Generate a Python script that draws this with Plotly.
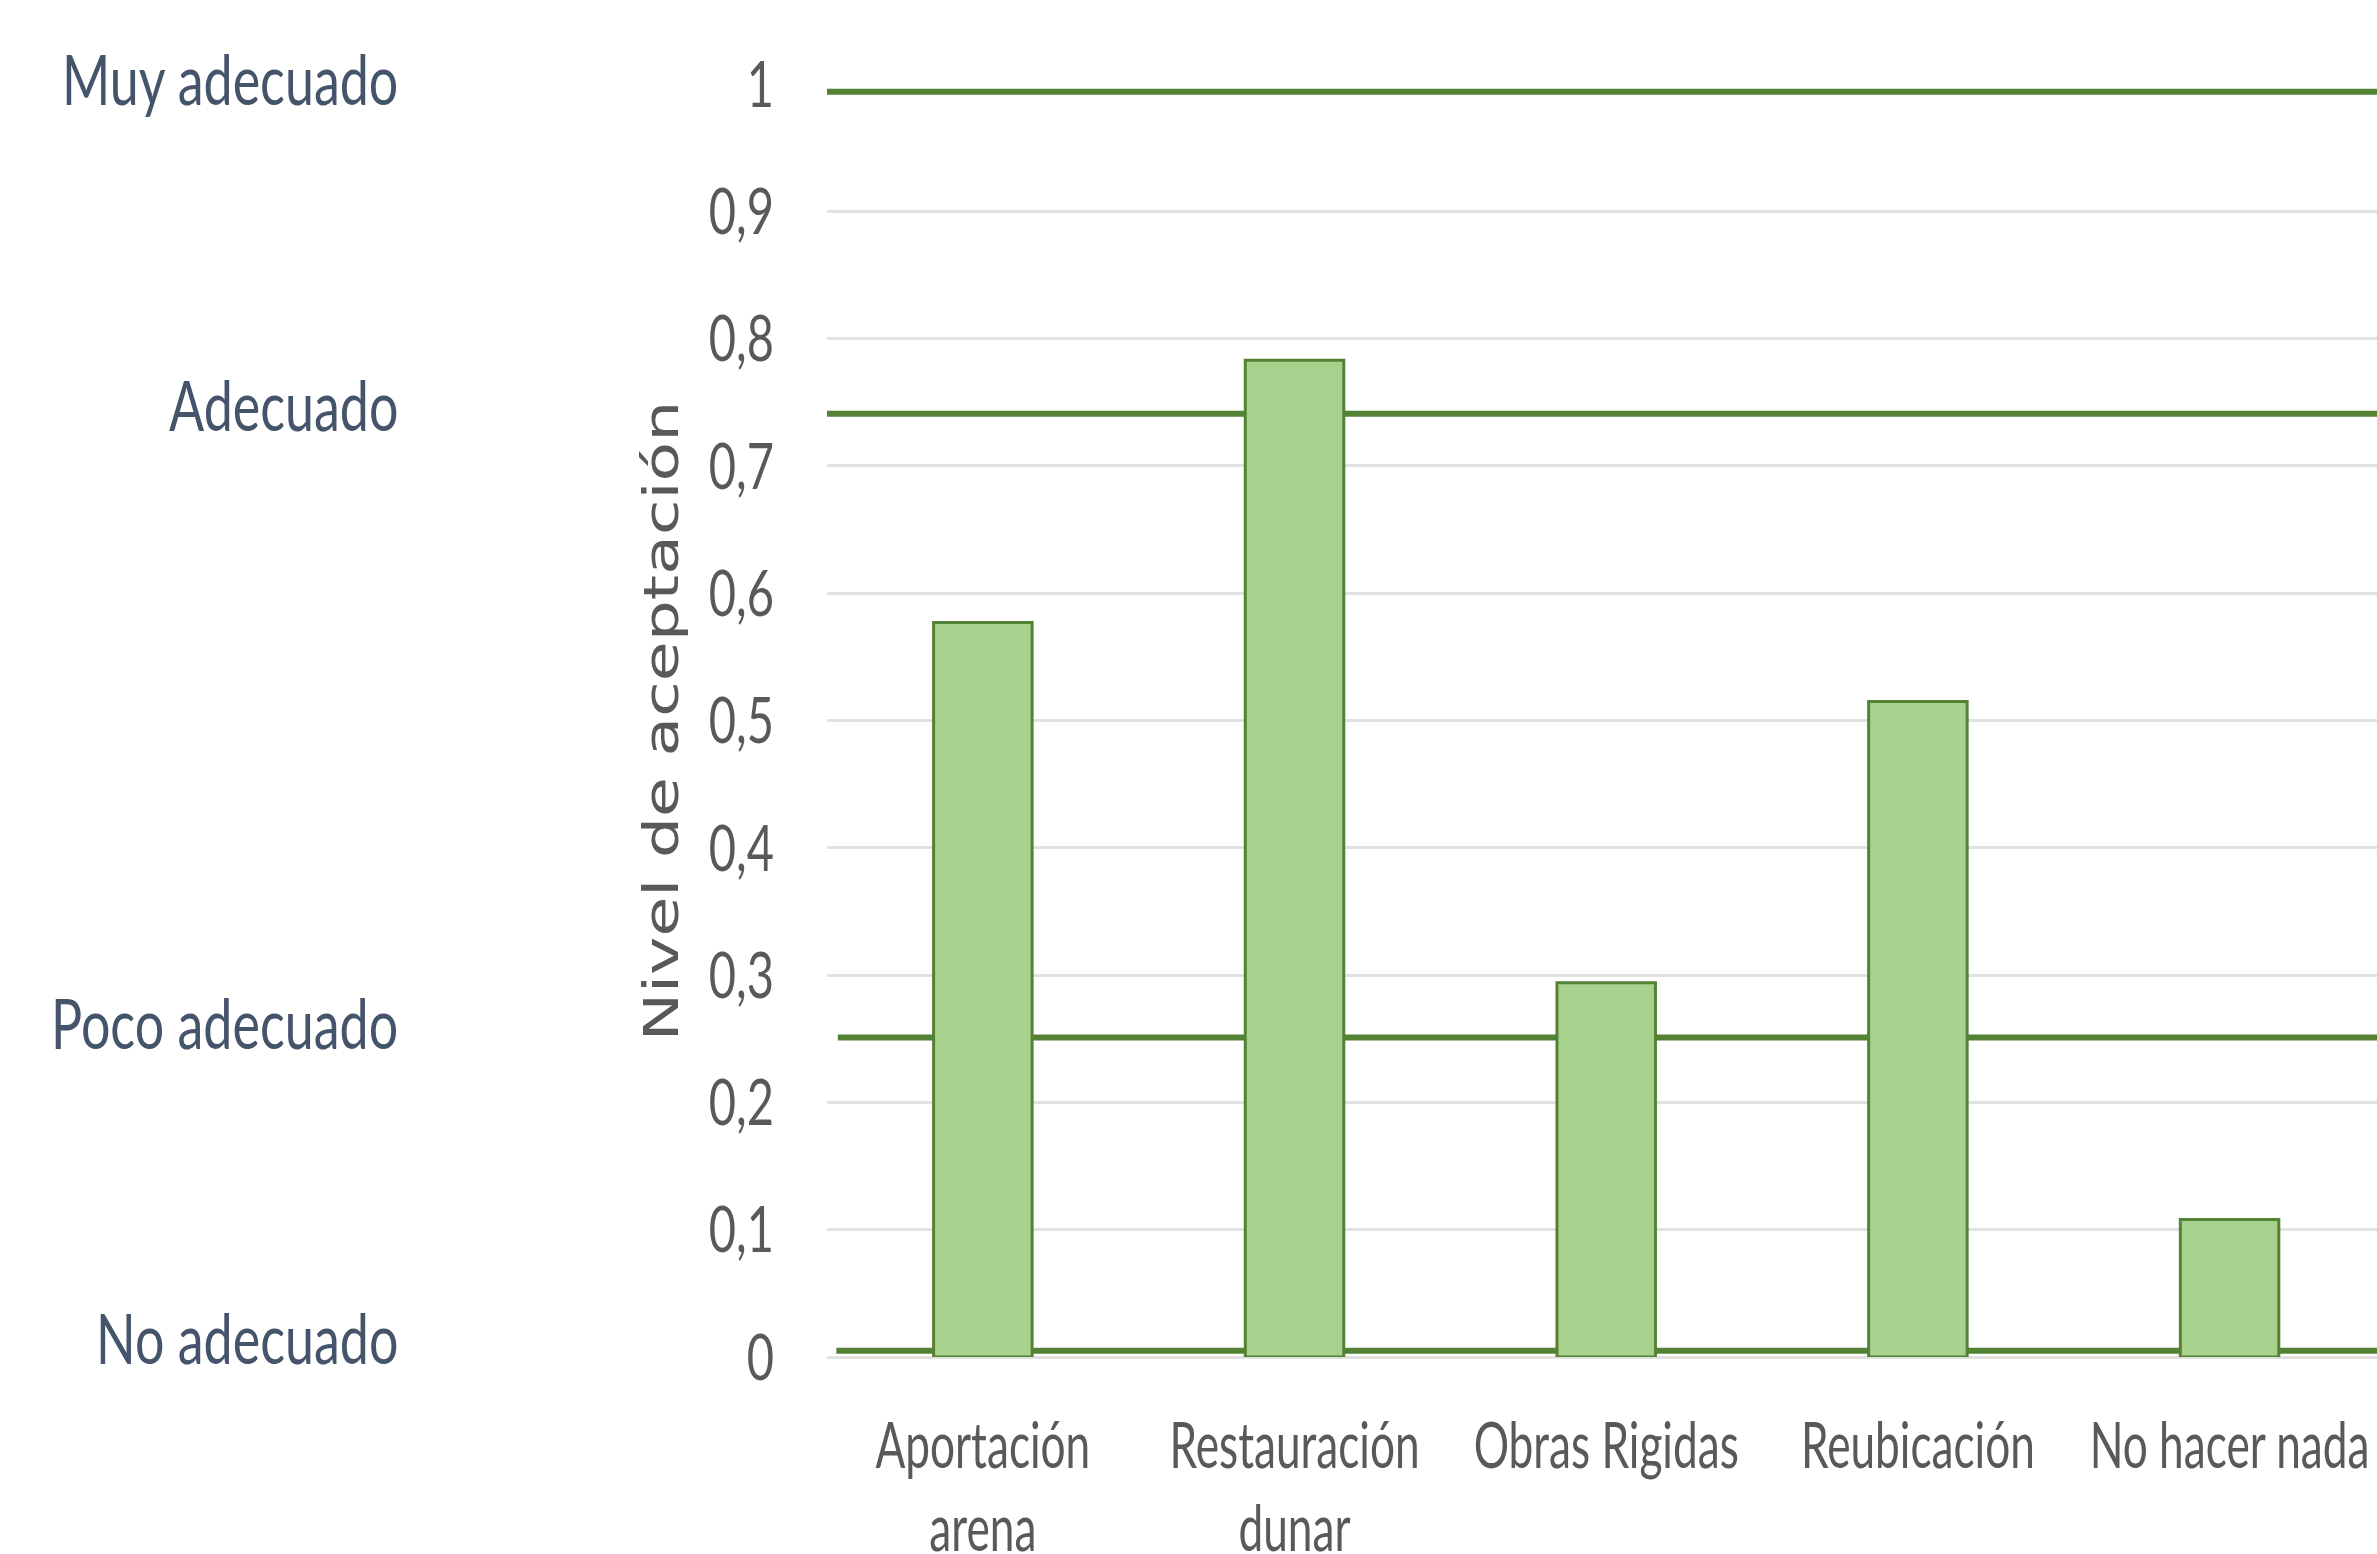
import plotly.graph_objects as go

# ---- data ----
categories = ["Aportación<br>arena", "Restauración<br>dunar", "Obras Rigidas", "Reubicación", "No hacer nada"]
acceptance = [0.577, 0.783, 0.294, 0.515, 0.108]

threshold_values = [0.994, 0.741, 0.251, 0.005]
level_labels = ["Muy adecuado", "Adecuado", "Poco adecuado", "No adecuado"]
level_label_y = [1.005, 0.749, 0.263, 0.016]

y_title = "Nivel de aceptación"

# styling (line start offsets in paper units)
line_starts = [0.0, 0.0, 0.007, 0.006]

LINE_GREEN = "#548235"
BAR_GREEN = "#A9D18E"
GRID = "#E1E1E1"
TICK_GRAY = "#595959"
LABEL_BLUE = "#44546A"

fig = go.Figure()

fig.add_trace(go.Bar(
    x=categories,
    y=acceptance,
    width=0.316,
    marker=dict(color=BAR_GREEN, line=dict(color=LINE_GREEN, width=3)),
    showlegend=False,
    hoverinfo="x+y",
))

for v, x0 in zip(threshold_values, line_starts):
    fig.add_shape(type="line", xref="paper", yref="y", x0=x0, x1=1, y0=v, y1=v,
                  line=dict(color=LINE_GREEN, width=6), layer="below")

for txt, yv in zip(level_labels, level_label_y):
    fig.add_annotation(text=txt, xref="paper", yref="y domain", x=-0.2755, y=yv,
                       xanchor="right", yanchor="middle", align="right", showarrow=False,
                       font=dict(family="Lato", size=52, color=LABEL_BLUE))

fig.add_annotation(text=y_title, xref="paper", yref="y domain", x=-0.1072, y=0.5,
                   xanchor="center", yanchor="middle", textangle=-90, showarrow=False,
                   font=dict(family="DejaVu Sans", size=48, color=TICK_GRAY))

fig.update_layout(
    width=2377, height=1554,
    margin=dict(l=827, r=0, t=84, b=197, pad=0),
    paper_bgcolor="white", plot_bgcolor="white",
    separators=",.",
    showlegend=False,
)

fig.update_xaxes(
    range=[-0.5, 4.473],
    showgrid=False, showline=False, zeroline=False,
    ticks="", ticklabelstandoff=47,
    tickfont=dict(family="Lato", size=47, color=TICK_GRAY),
)
fig.update_yaxes(
    range=[0, 1], dtick=0.1, tick0=0,
    showgrid=True, gridcolor=GRID, gridwidth=3,
    zeroline=True, zerolinecolor=GRID, zerolinewidth=3,
    showline=False, ticks="", ticklabelstandoff=52,
    tickfont=dict(family="Lato", size=47, color=TICK_GRAY),
)

post = """
document.documentElement.style.margin = '0';
document.body.style.margin = '0';
document.body.style.padding = '0';
document.body.style.overflow = 'hidden';
var gd = document.getElementById('{plot_id}');
var K = 1.35;
var KX = 0.94;
var texts = gd.querySelectorAll('svg text');
texts.forEach(function(t){
  if (t.getAttribute('data-st')) return;
  var b;
  try { b = t.getBBox(); } catch(e) { return; }
  if (!b || b.height === 0) return;
  var old = t.getAttribute('transform') || '';
  var s;
  var cx = b.x + b.width / 2;
  if ((t.textContent || '').indexOf('Nivel') === 0) {
    s = ' translate(' + cx + ',0) scale(' + K + ',1) translate(' + (-cx) + ',0)';
  } else if (t.closest && t.closest('.xtick')) {
    var ty = b.y;
    s = ' translate(' + cx + ',' + ty + ') scale(' + KX + ',' + K + ') translate(' + (-cx) + ',' + (-ty) + ')';
  } else {
    var cy = b.y + b.height / 2;
    s = ' translate(0,' + cy + ') scale(1,' + K + ') translate(0,' + (-cy) + ')';
  }
  t.setAttribute('transform', old + s);
  t.setAttribute('data-st', '1');
});
"""

fig.write_html("out.html", post_script=post, config={"responsive": False, "displayModeBar": False})
